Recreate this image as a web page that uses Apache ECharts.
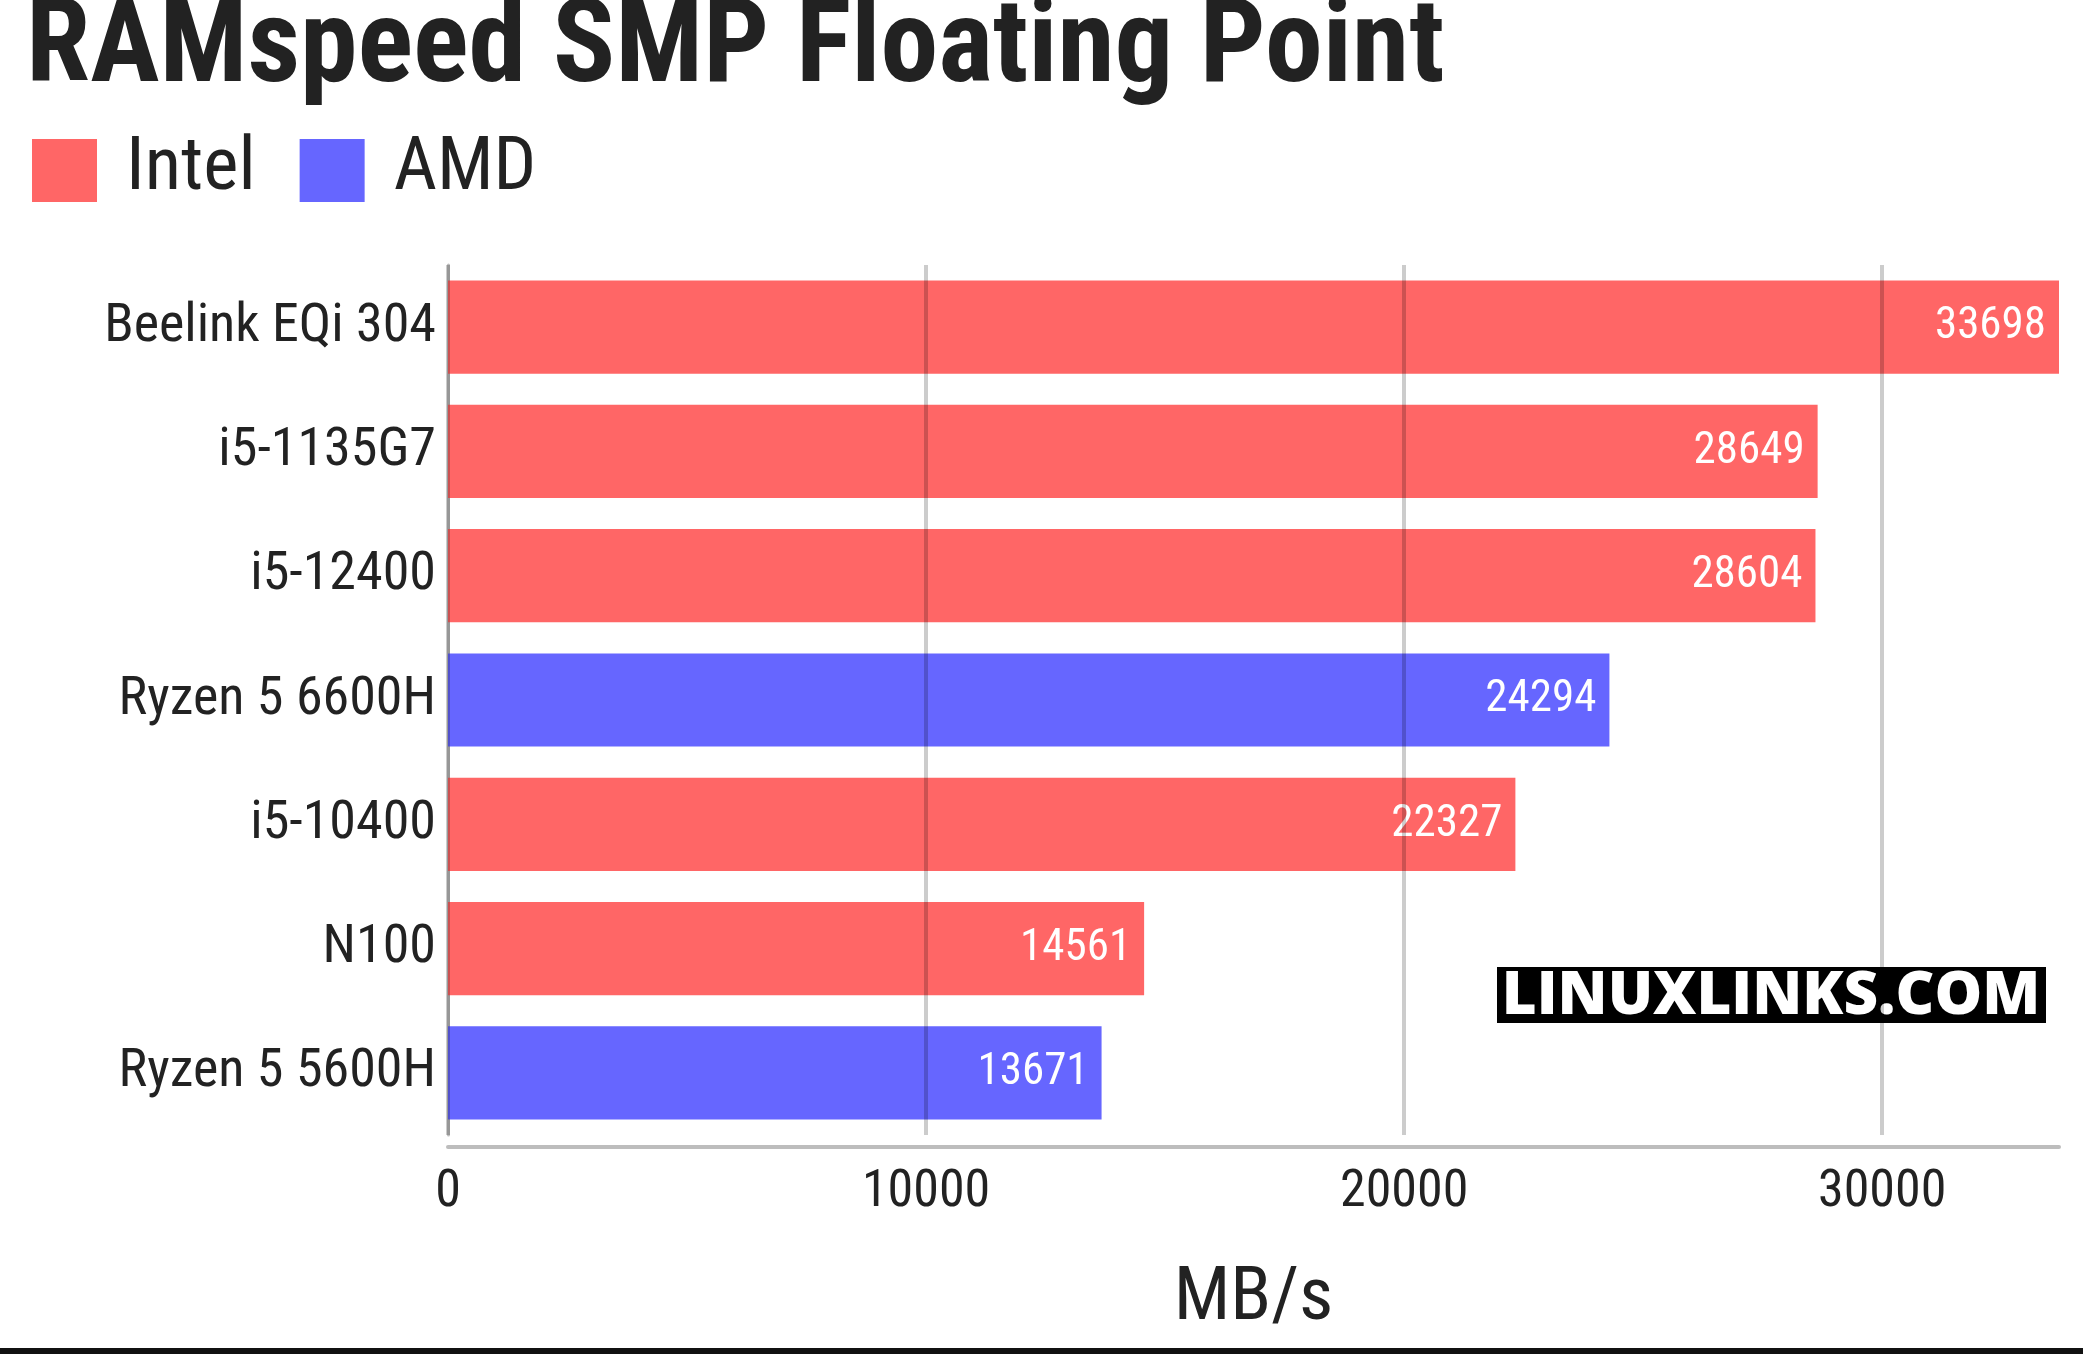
<!DOCTYPE html>
<html>
<head>
<meta charset="utf-8">
<script src="https://cdn.jsdelivr.net/npm/echarts@6/dist/echarts.min.js"></script>
<style>
  html, body { margin: 0; padding: 0; background: #fff; }
  #chart { width: 2083px; height: 1354px; }
</style>
</head>
<body>
<div id="chart"></div>
<script>
const categories = ["Beelink EQi 304", "i5-1135G7", "i5-12400", "Ryzen 5 6600H", "i5-10400", "N100", "Ryzen 5 5600H"];
const intelValues = [33698, 28649, 28604, "-", 22327, 14561, "-"];
const amdValues = ["-", "-", "-", 24294, "-", "-", 13671];
const xTicks = [0, 10000, 20000, 30000];

const INTEL = "#ff6666";
const AMD = "#6666ff";
const TEXT = "#222222";

// check whether the installed Roboto has a condensed face
function hasCondensed() {
  const ctx = document.createElement("canvas").getContext("2d");
  ctx.font = "bold 100px Roboto";
  const normal = ctx.measureText("RAMspeed SMP").width;
  ctx.font = "condensed bold 100px Roboto";
  const cond = ctx.measureText("RAMspeed SMP").width;
  return cond < normal * 0.97;
}
const condensed = hasCondensed();
const stretch = condensed ? "condensed" : "normal";
const FONT = "Roboto";

const chart = echarts.init(document.getElementById("chart"));

const labelStyle = {
  show: true,
  position: "insideRight",
  distance: 13,
  color: "#ffffff",
  fontSize: 45,
  fontFamily: FONT,
  fontStyle: stretch,
  padding: [6, 0, 0, 0],
};

chart.setOption({
  animation: false,
  backgroundColor: "#ffffff",
  legend: {
    left: 27,
    top: 128,
    itemWidth: 65,
    itemHeight: 63,
    itemGap: 44,
    icon: "rect",
    textStyle: {
      color: TEXT,
      fontSize: 75,
      fontFamily: FONT,
      fontStyle: stretch,
      padding: [0, 0, 0, 24],
    },
    data: ["Intel", "AMD"],
  },
  grid: {
    left: 448,
    right: 24,
    top: 265,
    bottom: 219,
  },
  xAxis: {
    type: "value",
    min: 0,
    max: "dataMax",
    interval: 10000,
    offset: 12,
    z: 5,
    name: "MB/s",
    nameLocation: "middle",
    nameGap: 116,
    nameTextStyle: { color: TEXT, fontSize: 75, fontFamily: FONT, fontStyle: stretch },
    axisLine: { show: true, lineStyle: { color: "#bdbdbd", width: 4 } },
    axisTick: { show: false, customValues: xTicks },
    axisLabel: {
      color: TEXT,
      fontSize: 52,
      fontFamily: FONT,
      fontStyle: stretch,
      margin: 20,
      customValues: xTicks,
      formatter: (v) => String(v),
    },
    splitLine: { show: true, lineStyle: { color: "rgba(0,0,0,0.2)", width: 4 } },
  },
  yAxis: {
    type: "category",
    inverse: true,
    data: categories,
    axisLine: { show: true, lineStyle: { color: "#bdbdbd", width: 3 } },
    axisTick: { show: false },
    axisLabel: {
      color: TEXT,
      fontSize: 54,
      fontFamily: FONT,
      fontStyle: stretch,
      margin: 12,
      padding: [6, 0, 0, 0],
    },
  },
  series: [
    {
      name: "Intel",
      type: "bar",
      data: intelValues,
      barCategoryGap: "25%",
      barGap: "-100%",
      itemStyle: { color: INTEL },
      label: labelStyle,
    },
    {
      name: "AMD",
      type: "bar",
      data: amdValues,
      barCategoryGap: "25%",
      barGap: "-100%",
      itemStyle: { color: AMD },
      label: labelStyle,
    },
  ],
  graphic: [
    {
      type: "text",
      x: 26,
      y: 52,
      scaleX: condensed ? 1 : 0.87,
      style: {
        text: "RAMspeed SMP Floating Point",
        fill: TEXT,
        font: stretch + " bold 116px " + FONT,
        verticalAlign: "middle",
      },
    },
    {
      type: "group",
      x: 1497,
      y: 967,
      children: [
        { type: "rect", shape: { x: 0, y: 0, width: 549, height: 56 }, style: { fill: "#000000" } },
        {
          type: "text",
          x: 274,
          y: 30,
          style: {
            text: "LINUXLINKS.COM",
            fill: "#ffffff",
            font: "800 60px 'Open Sans'",
            align: "center",
            verticalAlign: "middle",
          },
        },
      ],
    },
    {
      type: "rect",
      shape: { x: 0, y: 1348, width: 2083, height: 6 },
      style: { fill: "#111111" },
    },
  ],
});
</script>
</body>
</html>
